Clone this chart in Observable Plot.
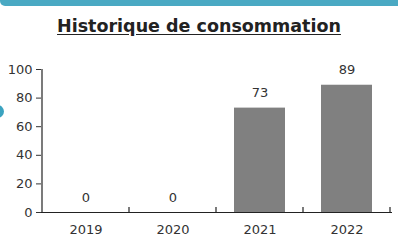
<!DOCTYPE html>
<html><head><meta charset="utf-8">
<script src="https://cdn.jsdelivr.net/npm/d3@7"></script>
<script src="https://cdn.jsdelivr.net/npm/@observablehq/plot@0.6"></script>
<style>
body{margin:0;background:#fff;}
#wrap{position:relative;width:398px;height:249px;overflow:hidden;background:#fff;}
#topbar{position:absolute;left:0;top:0;width:398px;height:6px;background:#4aa9c3;border-bottom-left-radius:5px;}
#dot{position:absolute;left:-9px;top:105px;width:13px;height:13px;border-radius:50%;background:#3ba3c0;}
#title{position:absolute;left:0;top:16px;width:398px;text-align:center;font-family:"DejaVu Sans";font-weight:bold;font-size:17.5px;line-height:normal;color:#222;text-decoration:underline;text-underline-offset:2px;}
#chart{position:absolute;left:0;top:44px;}
</style></head>
<body>
<div id="wrap">
  <div id="topbar"></div>
  <div id="title">Historique de consommation</div>
  <div id="chart"></div>
  <div id="dot"></div>
</div>
<script>
const years = ["2019", "2020", "2021", "2022"];
const values = [0, 0, 73, 89];
const yTicks = [0, 20, 40, 60, 80, 100];
const yDomain = [0, 100];

const data = years.map((year, i) => ({year, value: values[i]}));

function axesFrame(index, scales, vals, dims) {
  const x = scales.x, y = scales.y;
  const step = typeof x.step === "function" ? x.step() : scales.scales.x.step;
  const bw = typeof x.bandwidth === "function" ? x.bandwidth() : scales.scales.x.bandwidth;
  const gap = (step - bw) / 2;
  const g = d3.create("svg:g").attr("stroke", "#222").attr("stroke-width", 1.2).attr("fill", "none");
  const left = x(years[0]) - gap;
  const yb = y(yDomain[0]);
  g.append("line").attr("x1", left).attr("x2", left).attr("y1", y(yDomain[1])).attr("y2", yb);
  for (const yr of years) {
    const bx = x(yr) + bw + gap;
    g.append("line").attr("x1", bx).attr("x2", bx).attr("y1", yb).attr("y2", yb - 5);
  }
  return g.node();
}

const plot = Plot.plot({
  width: 398,
  height: 205,
  marginTop: 25,
  marginBottom: 37,
  marginLeft: 41,
  marginRight: 6,
  style: {fontFamily: "DejaVu Sans", fontSize: "13px", color: "#333", background: "transparent"},
  x: {domain: years, paddingInner: 0.41, paddingOuter: 0.205, label: null},
  y: {domain: yDomain, label: null},
  marks: [
    Plot.barY(data, {x: "year", y: "value", fill: "#808080"}),
    Plot.ruleY([0], {stroke: "#222", strokeWidth: 1.2}),
    axesFrame,
    Plot.axisY({ticks: yTicks, tickSize: 5, tickPadding: 4, label: null, color: "#333", fontSize: 13}),
    Plot.axisX({tickSize: 0, tickPadding: 12, label: null, color: "#333", fontSize: 13}),
    Plot.text(data, {x: "year", y: "value", text: d => String(d.value), dy: -15, fontSize: 13, fill: "#333"})
  ]
});
document.getElementById("chart").appendChild(plot);
</script>
</body></html>
